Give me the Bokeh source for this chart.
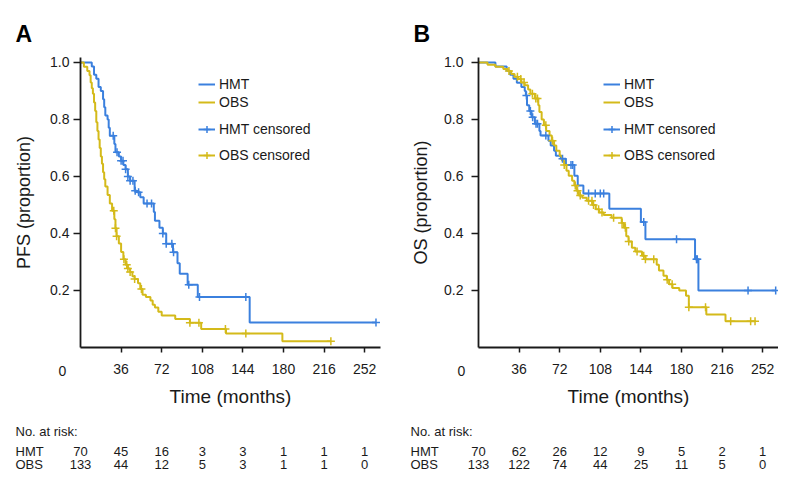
import numpy as np
from bokeh.plotting import figure
from bokeh.models import Range1d, FixedTicker, Label, Legend, LegendItem, PrintfTickFormatter
from bokeh.core.properties import value
from bokeh.layouts import row, column
from bokeh.embed import file_html
from bokeh.resources import INLINE

# ---------------- data ----------------
x_ticks = [36, 72, 108, 144, 180, 216, 252]
y_ticks = [0.2, 0.4, 0.6, 0.8, 1.0]
risk_times = [0, 36, 72, 108, 144, 180, 216, 252]

# Panel A: PFS
a_hmt_t = [0, 10, 12, 14, 16, 18, 20, 21, 22, 24, 25, 26, 30, 31, 34, 36, 38, 40, 42, 44,
           48, 50, 53, 56, 65, 66, 70, 73, 76, 82, 86, 88, 95, 104, 150, 262]
a_hmt_s = [1.0, 0.986, 0.957, 0.943, 0.914, 0.9, 0.871, 0.843, 0.814, 0.8, 0.771, 0.743, 0.714,
           0.685, 0.67, 0.655, 0.64, 0.625, 0.6, 0.585, 0.55, 0.545, 0.527, 0.505, 0.475, 0.445,
           0.42, 0.4, 0.364, 0.334, 0.296, 0.259, 0.22, 0.177, 0.088, 0.088]
a_hmt_cens = [29, 32.4, 36, 37.7, 40, 42, 44, 46.5, 48.5, 51.5, 59, 63, 73, 76, 81, 82.5,
              96, 105.5, 146.6, 262]

a_obs_t = [0, 3, 6, 8, 9, 10, 11, 12, 13, 14, 15, 16, 17, 18, 19, 20, 21, 22, 24, 26, 28, 30,
           31, 32, 34, 36, 38, 40, 42, 44, 46, 48, 51, 53, 55, 58, 62, 64, 66, 69, 72, 84, 97,
           107, 129, 179, 222]
a_obs_s = [1.0, 0.985, 0.97, 0.955, 0.93, 0.91, 0.89, 0.86, 0.83, 0.79, 0.76, 0.73, 0.70, 0.67,
           0.645, 0.615, 0.59, 0.565, 0.535, 0.505, 0.48, 0.45, 0.418, 0.39, 0.365, 0.335, 0.31,
           0.29, 0.277, 0.265, 0.25, 0.24, 0.225, 0.205, 0.185, 0.177, 0.165, 0.15, 0.14, 0.125,
           0.112, 0.1, 0.087, 0.065, 0.049, 0.022, 0.022]
a_obs_cens = [29.5, 31, 32, 38.5, 41, 42, 44, 48, 54, 97, 105, 128.5, 146.6, 222]

# Panel B: OS
b_hmt_t = [0, 15, 25, 28, 31, 34, 38, 41, 42, 43, 45, 47, 50, 54, 55, 62, 64, 67, 68.6, 73,
           77.5, 85, 88, 93, 116, 144, 148, 192, 195, 263.5]
b_hmt_s = [1.0, 0.986, 0.971, 0.957, 0.943, 0.929, 0.914, 0.9, 0.884, 0.85, 0.83, 0.808, 0.785,
           0.76, 0.744, 0.725, 0.709, 0.69, 0.673, 0.662, 0.64, 0.603, 0.568, 0.54, 0.487, 0.44,
           0.38, 0.31, 0.2, 0.2]
b_hmt_cens = [42.5, 46, 48, 51, 52.3, 59.7, 74.5, 82, 83.5, 97.6, 103.5, 108, 111, 146.5,
              175.6, 193.3, 194, 239, 263.5]

b_obs_t = [0, 8, 15, 22, 26, 29, 32, 35, 38, 41, 44, 46, 50, 53, 54, 56, 58, 60, 63, 65, 67, 69,
           72, 74, 76, 78, 80, 83, 85, 87, 89, 92, 96, 101, 104, 107, 111, 118, 127, 129, 131,
           133, 136, 139, 145, 148, 158, 160, 164, 167, 169, 172, 178, 184, 186.5, 202, 219,
           246]
b_obs_s = [1.0, 0.992, 0.985, 0.977, 0.97, 0.96, 0.95, 0.942, 0.93, 0.92, 0.905, 0.89, 0.874,
           0.85, 0.826, 0.8, 0.78, 0.76, 0.744, 0.725, 0.709, 0.69, 0.673, 0.655, 0.64, 0.62,
           0.603, 0.585, 0.568, 0.55, 0.533, 0.525, 0.515, 0.5, 0.485, 0.474, 0.465, 0.455,
           0.437, 0.42, 0.39, 0.372, 0.35, 0.337, 0.322, 0.31, 0.29, 0.27, 0.252, 0.238, 0.222,
           0.209, 0.2, 0.182, 0.141, 0.116, 0.092, 0.092]
b_obs_cens = [27, 34.5, 37.5, 40.4, 47.8, 50.8, 52.3, 59.7, 65.6, 76, 85.8, 87.8, 90.2, 97.6,
              100.6, 102, 106.5, 109.5, 119.8, 127.3, 130.2, 133.2, 140.6, 146.5, 148, 155.4,
              167.3, 171.7, 186.5, 201.3, 223.6, 241.3, 245.2]

a_risk_hmt = [70, 45, 16, 3, 3, 1, 1, 1]
a_risk_obs = [133, 44, 12, 5, 3, 1, 1, 0]
b_risk_hmt = [70, 62, 26, 12, 9, 5, 2, 1]
b_risk_obs = [133, 122, 74, 44, 25, 11, 5, 0]

# ---------------- style / layout ----------------
BLUE = "#3b80de"
YELLOW = "#d4ba1a"
INK = "#1a1a1a"
FONT = "Liberation Sans"
XMAX = 266
YMAX = 1.0175
FW, FH = 300, 290
XS = FW / XMAX
YS = FH / YMAX
TOP_H = 410
TAB_H = 62
FRAME_TOP = 57
FRAME_BOTTOM = FRAME_TOP + FH  # 347
ROW_Y = [21, 41, 54]  # header, HMT, OBS rows inside the at-risk strip


def step_value(ts, ss, t):
    ts = np.asarray(ts)
    i = np.searchsorted(ts, t, side="right") - 1
    return float(np.asarray(ss)[i])


def km_panel(fig_left, width, left, right, ylabel, letter,
             hmt_t, hmt_s, hmt_c, obs_t, obs_s, obs_c, ytick_standoff, ylab_standoff,
             zero_x, legend_dx, letter_x):
    frame_left = fig_left + left

    p = figure(width=width, height=TOP_H, x_range=Range1d(0, XMAX), y_range=Range1d(0, YMAX),
               min_border_left=left, min_border_right=right, min_border_top=FRAME_TOP,
               min_border_bottom=TOP_H - FRAME_BOTTOM,
               toolbar_location=None, output_backend="svg")
    p.grid.visible = False
    p.outline_line_color = None
    p.background_fill_color = "white"
    p.border_fill_color = "white"

    r_hs = p.step(hmt_t, hmt_s, mode="after", line_color=BLUE, line_width=2)
    r_os = p.step(obs_t, obs_s, mode="after", line_color=YELLOW, line_width=2)
    r_hc = p.scatter(hmt_c, [step_value(hmt_t, hmt_s, t) for t in hmt_c], marker="cross",
                     size=8, line_color=BLUE, line_width=1.5)
    r_oc = p.scatter(obs_c, [step_value(obs_t, obs_s, t) for t in obs_c], marker="cross",
                     size=8, line_color=YELLOW, line_width=1.5)

    p.xaxis.ticker = FixedTicker(ticks=x_ticks)
    p.yaxis.ticker = FixedTicker(ticks=y_ticks)
    p.yaxis.formatter = PrintfTickFormatter(format="%.1f")
    p.xaxis.axis_label = "Time (months)"
    p.yaxis.axis_label = ylabel
    for ax in (p.xaxis, p.yaxis):
        ax.axis_line_color = INK
        ax.axis_line_width = 1.8
        ax.major_tick_line_color = INK
        ax.major_tick_line_width = 1.5
        ax.major_tick_in = 0
        ax.minor_tick_line_color = None
        ax.major_label_text_font = FONT
        ax.major_label_text_font_size = "14px"
        ax.major_label_text_color = INK
        ax.axis_label_text_font = FONT
        ax.axis_label_text_font_style = "normal"
        ax.axis_label_text_color = INK
    p.xaxis.axis_label_text_font_size = "19px"
    p.yaxis.axis_label_text_font_size = "18px"
    p.xaxis.major_tick_out = 5
    p.xaxis.major_label_standoff = 11
    p.xaxis.axis_label_standoff = 9
    p.yaxis.major_tick_out = 7
    p.yaxis.major_label_standoff = ytick_standoff
    p.yaxis.axis_label_standoff = ylab_standoff

    common = dict(orientation="vertical", padding=0, margin=0, glyph_width=17,
                  glyph_height=18, label_height=18, label_standoff=4,
                  label_text_font=FONT, label_text_font_size="14px", label_text_color=INK,
                  border_line_color=None, background_fill_alpha=0)
    leg1 = Legend(items=[LegendItem(label="HMT", renderers=[r_hs]),
                         LegendItem(label="OBS", renderers=[r_os])],
                  location=(legend_dx, FRAME_BOTTOM - 111), spacing=0, **common)
    leg2 = Legend(items=[LegendItem(label="HMT censored", renderers=[r_hs, r_hc]),
                         LegendItem(label="OBS censored", renderers=[r_os, r_oc])],
                  location=(legend_dx, FRAME_BOTTOM - 164), spacing=8, **common)
    p.add_layout(leg1)
    p.add_layout(leg2)

    # "0" label of the time axis, set off to the left of the corner
    p.add_layout(Label(x=(zero_x - frame_left) / XS, y=-(370 - FRAME_BOTTOM) / YS,
                       text="0", text_align="center", text_baseline="middle",
                       text_font=FONT, text_font_size="14px", text_color=INK), "left")
    # panel letter
    p.add_layout(Label(x=(letter_x - frame_left) / XS, y=(FRAME_BOTTOM - 33) / YS,
                       text=letter, text_align="left", text_baseline="middle",
                       text_font=FONT, text_font_size="23px", text_font_style="bold",
                       text_color="black"), "above")
    return p


def risk_table(width, left, hmt, obs, label_x):
    t = figure(width=width, height=TAB_H,
               x_range=Range1d(-left / XS, (width - left) / XS), y_range=Range1d(TAB_H, 0),
               min_border=0, toolbar_location=None, output_backend="svg",
               x_axis_type=None, y_axis_type=None)
    t.grid.visible = False
    t.outline_line_color = None
    style = dict(text_font=value(FONT), text_font_size="13px", text_color=INK,
                 text_baseline="middle")
    lx = (label_x - left) / XS
    t.text(x=[lx, lx, lx], y=ROW_Y, text=["No. at risk:", "HMT", "OBS"],
           text_align="left", **style)
    t.text(x=risk_times, y=[ROW_Y[1]] * len(risk_times), text=[str(v) for v in hmt],
           text_align="center", **style)
    t.text(x=risk_times, y=[ROW_Y[2]] * len(risk_times), text=[str(v) for v in obs],
           text_align="center", **style)
    return t


pA = km_panel(0, 395, 80, 15, "PFS (proportion)", "A", a_hmt_t, a_hmt_s, a_hmt_cens,
              a_obs_t, a_obs_s, a_obs_cens, 4, 13, 62, 118, 15)
pB = km_panel(395, 383, 83, 0, "OS (proportion)", "B", b_hmt_t, b_hmt_s, b_hmt_cens,
              b_obs_t, b_obs_s, b_obs_cens, 8, 10, 461, 125, 413)
tA = risk_table(395, 80, a_risk_hmt, a_risk_obs, 15)
tB = risk_table(383, 83, b_risk_hmt, b_risk_obs, 15)

layout = column(row(pA, pB), row(tA, tB))
open("out.html", "w").write(file_html(layout, INLINE))
